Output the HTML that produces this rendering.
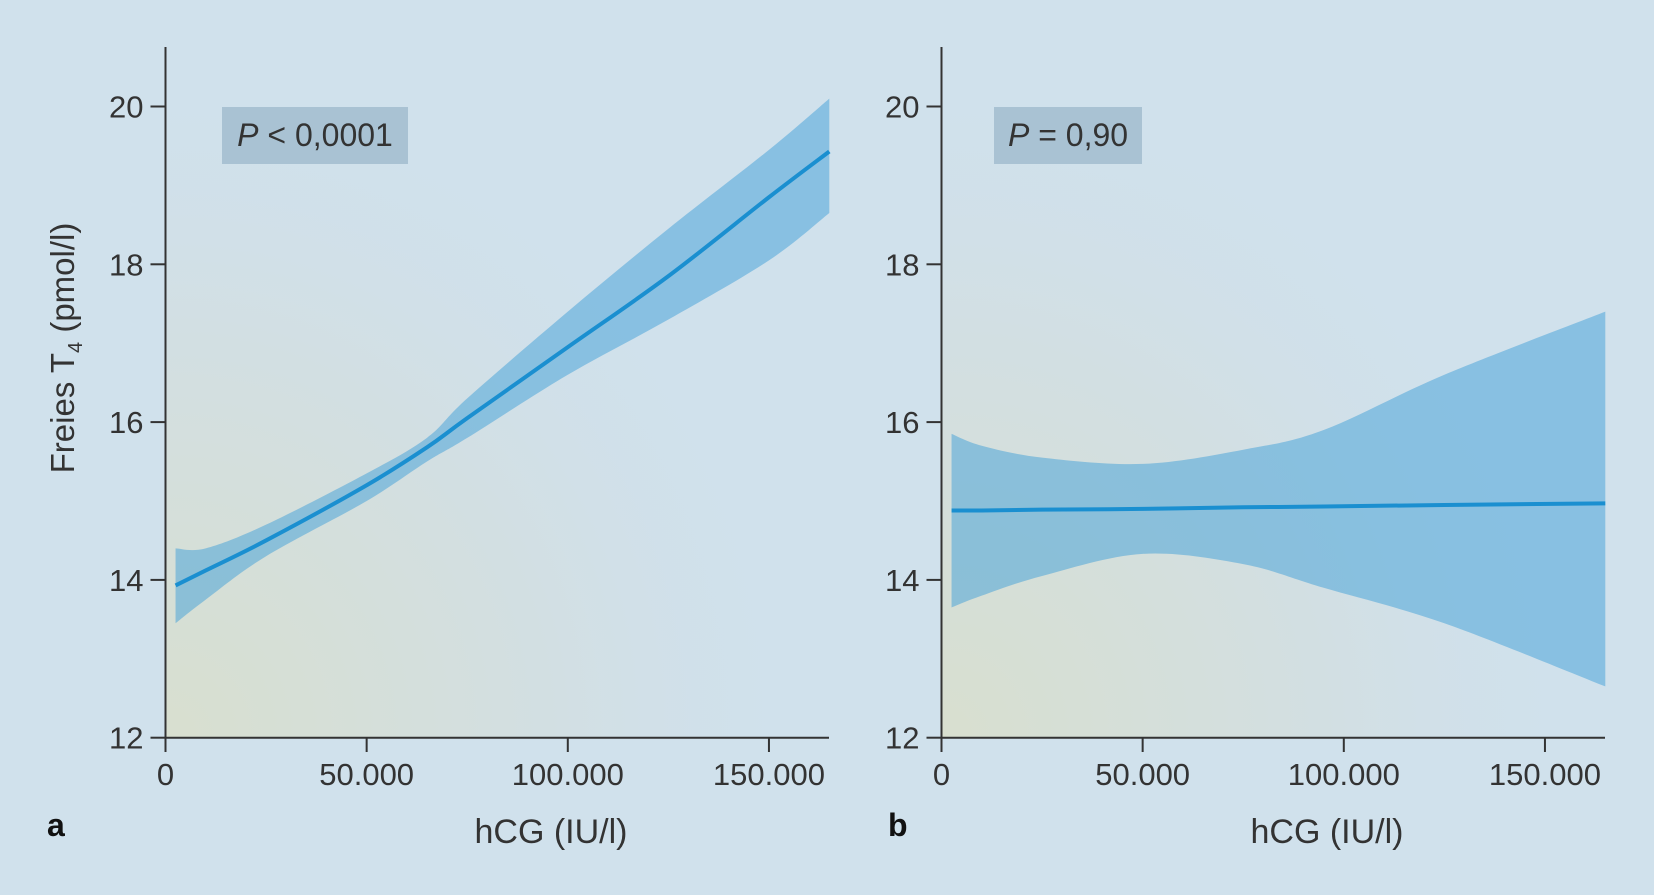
<!DOCTYPE html>
<html><head><meta charset="utf-8"><style>
body{margin:0;background:#d0e1ec;}
svg{display:block;font-family:"Liberation Sans","DejaVu Sans",sans-serif;}
</style></head><body>
<svg id="chart" width="1654" height="895">
<defs>
<radialGradient id="glow" cx="0" cy="1" r="1" gradientUnits="objectBoundingBox">
<stop offset="0" stop-color="#d8dfcf"/><stop offset="0.6" stop-color="#d2dfe3"/><stop offset="1" stop-color="#d0e1ec" stop-opacity="0"/>
</radialGradient>
</defs>
<rect width="1654" height="895" fill="#d0e1ec"/>
</svg>
<script>
const xTicks=[0,50000,100000,150000];
const xTickLabels=["0","50.000","100.000","150.000"];
const yTicks=[12,14,16,18,20];
const aX=[2500,10000,25000,50000,65000,75000,100000,125000,150000,165000];
const aLine=[13.93,14.12,14.5,15.2,15.68,16.05,16.95,17.85,18.85,19.43];
const aUpper=[14.4,14.4,14.7,15.35,15.8,16.3,17.4,18.45,19.45,20.1];
const aLower=[13.45,13.75,14.3,15.0,15.5,15.8,16.6,17.3,18.05,18.65];
const bX=[2500,10000,25000,50000,75000,95000,125000,165000];
const bLine=[14.88,14.88,14.89,14.9,14.92,14.93,14.95,14.97];
const bUpper=[15.85,15.7,15.55,15.47,15.65,15.9,16.6,17.4];
const bLower=[13.65,13.8,14.05,14.33,14.2,13.9,13.45,12.65];
const pRel=["<","="];
const pVal=["0,0001","0,90"];
const svg=document.getElementById('chart');
const NS="http://www.w3.org/2000/svg";
function mk(t,a,p){const e=document.createElementNS(NS,t);for(const k in a)e.setAttribute(k,a[k]);(p||svg).appendChild(e);return e;}
function smooth(pts,start){
  let d=start?'M'+pts[0][0]+','+pts[0][1]:'L'+pts[0][0]+','+pts[0][1];
  for(let i=0;i<pts.length-1;i++){
    const p0=pts[Math.max(i-1,0)],p1=pts[i],p2=pts[i+1],p3=pts[Math.min(i+2,pts.length-1)];
    const c1=[p1[0]+(p2[0]-p0[0])/6,p1[1]+(p2[1]-p0[1])/6];
    const c2=[p2[0]-(p3[0]-p1[0])/6,p2[1]-(p3[1]-p1[1])/6];
    d+='C'+c1+' '+c2+' '+p2;
  }
  return d;
}
function panel(off,X,L,U,Lo,rel,val,letter,box,letterX){
  const sx=v=>165.5+off+v*0.004023;
  const sy=v=>737.7-(v-12)*78.9;
  const ax0=165.5+off, axEnd=829+off;
  const g=mk('g',{});
  
  
  const bg=mk('rect',{x:ax0,y:47,width:axEnd-ax0,height:691,fill:'url(#glow)'},g);
  
  
  const up=X.map((x,i)=>[sx(x),sy(U[i])]);
  const lo=X.map((x,i)=>[sx(x),sy(Lo[i])]).reverse();
  const band=mk('path',{d:smooth(up,true)+smooth(lo,false)+'Z',fill:'#3fa0d8','fill-opacity':0.5},g);
  
  
  const ln=mk('path',{d:smooth(X.map((x,i)=>[sx(x),sy(L[i])]),true),fill:'none',stroke:'#1a8fd0','stroke-width':4},g);
  
  
  const ya=mk('line',{x1:ax0,y1:47,x2:ax0,y2:737.7,stroke:'#333','stroke-width':2},g);
  
  
  const xa=mk('line',{x1:ax0,y1:737.7,x2:axEnd,y2:737.7,stroke:'#333','stroke-width':2},g);
  
  
  yTicks.forEach(v=>{
    mk('line',{x1:ax0-15,x2:ax0,y1:sy(v),y2:sy(v),stroke:'#333','stroke-width':2},g);
    const t=mk('text',{x:ax0-22,y:sy(v)+11,'text-anchor':'end','font-size':31,fill:'#333'},g);
    t.textContent=v;
    
    
  });
  xTicks.forEach((v,i)=>{
    mk('line',{x1:sx(v),x2:sx(v),y1:737.7,y2:752,stroke:'#333','stroke-width':2},g);
    const t=mk('text',{x:sx(v),y:785,'text-anchor':'middle','font-size':31,fill:'#333'},g);
    t.textContent=xTickLabels[i];
    
    
  });
  const r=mk('rect',{x:box[0]+off,y:107,width:box[1],height:57,fill:'#a9c2d3'},g);
  
  
  const pt=mk('text',{x:box[0]+off+box[1]/2,y:146,'text-anchor':'middle','font-size':32,fill:'#333'},g);
  pt.innerHTML='<tspan font-style="italic">P</tspan> '+(rel=='<'?'&lt;':rel)+' '+val;
  
  
  const xt=mk('text',{x:551+off,y:843,'text-anchor':'middle','font-size':34,fill:'#333'},g);
  xt.textContent='hCG (IU/l)';
  
  
  const lt=mk('text',{x:letterX,y:836,'font-size':32,'font-weight':'bold',fill:'#111'},g);
  lt.textContent=letter;
  
  
}
panel(0,aX,aLine,aUpper,aLower,pRel[0],pVal[0],'a',[222,186],47);
panel(776,bX,bLine,bUpper,bLower,pRel[1],pVal[1],'b',[218,148],888);
const yt=mk('text',{transform:'translate(74,348) rotate(-90)','text-anchor':'middle','font-size':33,fill:'#333'});
yt.innerHTML='Freies T<tspan font-size="20" dy="8">4</tspan><tspan dy="-8"> (pmol/l)</tspan>';


</script>
</body></html>
